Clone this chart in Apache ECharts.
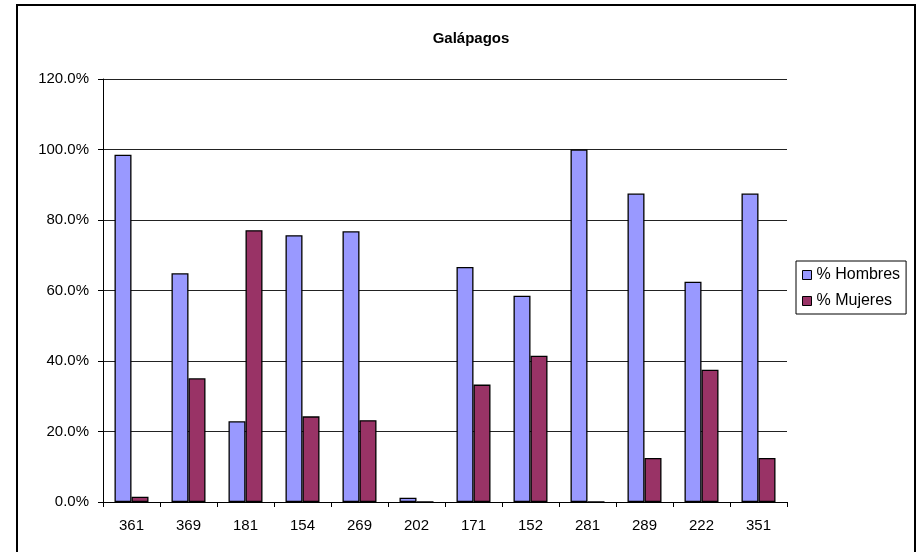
<!DOCTYPE html>
<html>
<head>
<meta charset="utf-8">
<script src="https://cdn.jsdelivr.net/npm/echarts@6/dist/echarts.min.js"></script>
<style>html,body{margin:0;padding:0;background:#fff}#c{width:919px;height:552px}</style>
</head>
<body>
<div id="c"></div>
<script>
const categories = ['361','369','181','154','269','202','171','152','281','289','222','351'];
const hombres = [0.985, 0.649, 0.229, 0.757, 0.768, 0.012, 0.667, 0.585, 1.0, 0.875, 0.625, 0.875];
const mujeres = [0.015, 0.351, 0.771, 0.243, 0.232, 0.0, 0.333, 0.415, 0.0, 0.125, 0.375, 0.125];
const seriesNames = ['% Hombres', '% Mujeres'];
const titleText = 'Galápagos';

const chart = echarts.init(document.getElementById('c'), null, {renderer: 'canvas'});
const font = 'Arial, "Liberation Sans", sans-serif';
chart.setOption({
  animation: false,
  backgroundColor: '#fff',
  title: {
    text: titleText, left: 466, top: 26, textAlign: 'center',
    textStyle: {fontFamily: font, fontWeight: 'bold', fontSize: 15, color: '#000'}
  },
  graphic: [{
    type: 'rect', shape: {x: 17, y: 5, width: 898, height: 570},
    style: {fill: null, stroke: '#000', lineWidth: 2}, silent: true, z: 100
  }],
  legend: {
    orient: 'vertical', left: 796, top: 261,
    padding: [6, 6, 5, 6], itemGap: 10,
    itemWidth: 9, itemHeight: 9,
    borderColor: '#000', borderWidth: 1,
    icon: 'rect',
    itemStyle: {borderColor: '#000', borderWidth: 1},
    textStyle: {fontFamily: font, fontSize: 16, color: '#000', lineHeight: 16},
    data: seriesNames
  },
  grid: {left: 103, right: 132, top: 79, bottom: 50, containLabel: false},
  xAxis: {
    type: 'category', data: categories, boundaryGap: true,
    axisLine: {lineStyle: {color: '#000', width: 1}},
    axisTick: {show: true, interval: 0, length: 5, inside: false, lineStyle: {color: '#000'}},
    axisLabel: {fontFamily: font, fontSize: 15, color: '#000', margin: 16, interval: 0},
    splitLine: {show: false}
  },
  yAxis: {
    type: 'value', min: 0, max: 1.2, interval: 0.2,
    axisLine: {show: true, lineStyle: {color: '#000', width: 1}},
    axisTick: {show: true, length: 5, lineStyle: {color: '#000'}},
    axisLabel: {fontFamily: font, fontSize: 15, color: '#000', margin: 14,
      formatter: v => (v * 100).toFixed(1) + '%'},
    splitLine: {show: true, lineStyle: {color: '#222', width: 1}}
  },
  series: [
    {name: seriesNames[0], type: 'bar', data: hombres, barWidth: 17, barGap: '0%',
     itemStyle: {color: '#9999FF', borderColor: '#000', borderWidth: 1.3}},
    {name: seriesNames[1], type: 'bar', data: mujeres, barWidth: 17, barGap: '0%',
     itemStyle: {color: '#993366', borderColor: '#000', borderWidth: 1.3}}
  ]
});
</script>
</body>
</html>
